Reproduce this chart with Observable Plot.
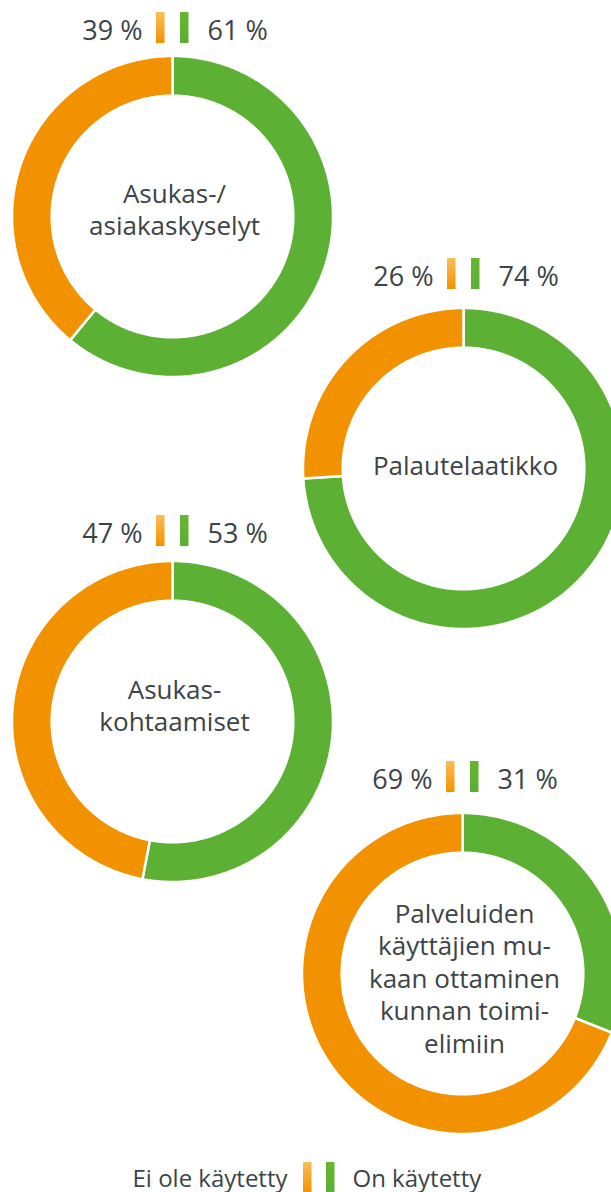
<!DOCTYPE html>
<html>
<head>
<meta charset="utf-8">
<script src="https://cdn.jsdelivr.net/npm/d3@7"></script>
<script src="https://cdn.jsdelivr.net/npm/@observablehq/plot@0.6"></script>
<style>
  html, body { margin: 0; padding: 0; background: #fff; }
  svg { display: block; }
</style>
</head>
<body>
<div id="chart"></div>
<script>
// ---- data ----
const categories = [
  "Asukas-/\nasiakaskyselyt",
  "Palautelaatikko",
  "Asukas-\nkohtaamiset",
  "Palveluiden\nkäyttäjien mu-\nkaan ottaminen\nkunnan toimi-\nelimiin"
];
const eiOleKaytetty = [39, 26, 47, 69];
const onKaytetty = [61, 74, 53, 31];
const seriesNames = ["Ei ole käytetty", "On käytetty"];

// ---- layout ----
const W = 611, H = 1192;
const centerX = [172, 463, 172, 462];
const centerY = [216, 468, 721, 973];
const rowOffset = [-173, -179, -175, -181];   // bottom of the small bar row, relative to centre
const labelOffset = [-8, -4, -17, 4];         // centre label shift
const legendCX = 318.5, legendBottom = 1192;
const R_OUT = 160.5, R_IN = 120.8;
const ORANGE = "#f39200", GREEN = "#5cb135", TEXT = "#3d4448";
const FONT = "Open Sans";

// ---- ring geometry (computed from values) ----
function slice(panel, series, a0, a1) {
  const cx = centerX[panel], cy = centerY[panel];
  const n = Math.max(2, Math.ceil((a1 - a0) / (Math.PI / 360)));
  const pts = [];
  for (let k = 0; k <= n; k++) {
    const a = a0 + (a1 - a0) * k / n;
    pts.push({x: cx + R_OUT * Math.sin(a), y: cy - R_OUT * Math.cos(a)});
  }
  for (let k = n; k >= 0; k--) {
    const a = a0 + (a1 - a0) * k / n;
    pts.push({x: cx + R_IN * Math.sin(a), y: cy - R_IN * Math.cos(a)});
  }
  pts.push(pts[0]);
  return pts.map(p => ({...p, id: panel + "-" + series, series}));
}
const greenPts = [], orangePts = [];
categories.forEach((c, i) => {
  const total = eiOleKaytetty[i] + onKaytetty[i];
  const split = 2 * Math.PI * onKaytetty[i] / total;
  greenPts.push(...slice(i, seriesNames[1], 0, split));
  orangePts.push(...slice(i, seriesNames[0], split, 2 * Math.PI));
});

const rows = categories.map((c, i) => ({
  category: c,
  left: eiOleKaytetty[i],
  right: onKaytetty[i],
  cx: centerX[i],
  cy: centerY[i],
  rowY: centerY[i] + rowOffset[i],
  labelY: centerY[i] + labelOffset[i]
}));
const legend = [{cx: legendCX, rowY: legendBottom, left: seriesNames[0], right: seriesNames[1]}];

const chart = Plot.plot({
  width: W,
  height: H,
  margin: 0,
  x: {domain: [0, W], range: [0, W], axis: null},
  y: {domain: [0, H], range: [0, H], axis: null},
  style: {fontFamily: FONT, background: "white", color: TEXT},
  marks: [
    Plot.line(greenPts, {x: "x", y: "y", z: "id", fill: GREEN, stroke: "white", strokeWidth: 2.5, curve: "linear"}),
    Plot.line(orangePts, {x: "x", y: "y", z: "id", fill: ORANGE, stroke: "white", strokeWidth: 2.5, curve: "linear"}),
    // percentage row
    Plot.text(rows, {x: d => d.cx - 30, y: d => d.rowY - 4, text: d => d.left + " %", textAnchor: "end", lineAnchor: "bottom", fontSize: 27, fill: TEXT}),
    Plot.text(rows, {x: d => d.cx + 35, y: d => d.rowY - 4, text: d => d.right + " %", textAnchor: "start", lineAnchor: "bottom", fontSize: 27, fill: TEXT}),
    Plot.rect(rows, {x1: d => d.cx - 16, x2: d => d.cx - 7.5, y1: d => d.rowY - 31, y2: d => d.rowY, fill: "url(#gradOrange)"}),
    Plot.rect(rows, {x1: d => d.cx + 8, x2: d => d.cx + 16.5, y1: d => d.rowY - 31, y2: d => d.rowY, fill: "url(#gradGreen)"}),
    // centre labels
    Plot.text(rows, {x: d => d.cx + 2, y: d => d.labelY, text: "category", lineAnchor: "middle", lineHeight: 1.25, fontSize: 26, fill: TEXT}),
    // legend
    Plot.text(legend, {x: d => d.cx - 31.5, y: d => d.rowY - 6, text: "left", textAnchor: "end", lineAnchor: "bottom", fontSize: 24, fill: TEXT}),
    Plot.text(legend, {x: d => d.cx + 33.5, y: d => d.rowY - 6, text: "right", textAnchor: "start", lineAnchor: "bottom", fontSize: 24, fill: TEXT}),
    Plot.rect(legend, {x1: d => d.cx - 15.5, x2: d => d.cx - 7, y1: d => d.rowY - 30, y2: d => d.rowY, fill: "url(#gradOrange)"}),
    Plot.rect(legend, {x1: d => d.cx + 7.5, x2: d => d.cx + 16, y1: d => d.rowY - 30, y2: d => d.rowY, fill: "url(#gradGreen)"})
  ]
});

const defs = document.createElementNS("http://www.w3.org/2000/svg", "defs");
defs.innerHTML = `
  <linearGradient id="gradOrange" x1="0" y1="0" x2="0" y2="1">
    <stop offset="0" stop-color="#fdbc57"/>
    <stop offset="1" stop-color="#f39200"/>
  </linearGradient>
  <linearGradient id="gradGreen" x1="0" y1="0" x2="0" y2="1">
    <stop offset="0" stop-color="#66b62f"/>
    <stop offset="1" stop-color="#5aaf35"/>
  </linearGradient>`;
chart.insertBefore(defs, chart.firstChild);
document.getElementById("chart").appendChild(chart);
</script>
</body>
</html>
